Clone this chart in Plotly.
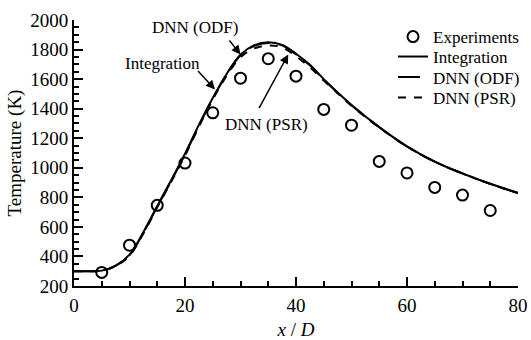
import plotly.graph_objects as go

# Experimental data
exp_x = [5, 10, 15, 20, 25, 30, 35, 40, 45, 50, 55, 60, 65, 70, 75]
exp_T = [292, 476, 746, 1032, 1372, 1606, 1738, 1620, 1395, 1288, 1043, 965, 867, 815, 711]

# Integration curve
int_x = [0, 2.5, 5, 7.5, 10, 12.5, 15, 17.5, 20, 22.5, 25, 27.5, 30, 32.5, 35, 37.5, 40, 42.5, 45, 47.5, 50, 55, 60, 65, 70, 75, 80]
int_T = [300, 300, 304, 338, 412, 565, 742, 915, 1095, 1290, 1472, 1635, 1765, 1830, 1850, 1832, 1772, 1697, 1600, 1510, 1425, 1275, 1145, 1042, 962, 892, 830]

# DNN (ODF)
odf_x = [0, 2.5, 5, 7.5, 10, 12.5, 15, 17.5, 20, 22.5, 25, 27.5, 30, 32.5, 35, 37.5, 40, 42.5, 45, 47.5, 50, 55, 60, 65, 70, 75, 80]
odf_T = [300, 300, 303, 336, 408, 560, 737, 910, 1090, 1285, 1468, 1632, 1762, 1826, 1845, 1828, 1768, 1693, 1597, 1508, 1423, 1274, 1144, 1041, 961, 891, 829]

# DNN (PSR)
psr_x = [0, 2.5, 5, 7.5, 10, 12.5, 15, 17.5, 20, 22.5, 25, 27.5, 30, 32.5, 35, 37.5, 40, 42.5, 45, 47.5, 50, 55, 60, 65, 70, 75, 80]
psr_T = [300, 300, 303, 335, 405, 555, 732, 905, 1082, 1278, 1462, 1622, 1748, 1808, 1828, 1815, 1755, 1680, 1590, 1505, 1420, 1273, 1144, 1041, 961, 891, 829]

FONT = "Liberation Serif, Times New Roman, DejaVu Serif, serif"

legend_rows = [0.936, 0.861, 0.784, 0.707]
legend_x = 0.7185

fig = go.Figure()
fig.add_trace(go.Scatter(x=exp_x, y=exp_T, mode="markers", name="Experiments", legend="legend",
                         marker=dict(symbol="circle-open", size=11, color="black", line=dict(width=2, color="black"))))
fig.add_trace(go.Scatter(x=int_x, y=int_T, mode="lines", name="Integration", line_shape="spline", legend="legend2",
                         line=dict(color="black", width=2)))
fig.add_trace(go.Scatter(x=odf_x, y=odf_T, mode="lines", name="DNN (ODF)", line_shape="spline", legend="legend3",
                         line=dict(color="black", width=2, dash="22px,8px")))
fig.add_trace(go.Scatter(x=psr_x, y=psr_T, mode="lines", name="DNN (PSR)", line_shape="spline", legend="legend4",
                         line=dict(color="black", width=2, dash="8px,8px")))

# text labels
labels = [("DNN (ODF)", 21.8, 1950), ("Integration", 16.0, 1706), ("DNN (PSR)", 34.7, 1292)]
for t, x, y in labels:
    fig.add_annotation(x=x, y=y, text=t, showarrow=False, font=dict(family=FONT, size=17, color="black"))

# arrows (tail -> tip)
arrows = [((27.8, 1872), (30.0, 1767)), ((22.1, 1665), (25.4, 1530)), ((33.2, 1394), (38.6, 1767))]
for (tx, ty), (hx, hy) in arrows:
    fig.add_annotation(x=hx, y=hy, ax=tx, ay=ty, xref="x", yref="y", axref="x", ayref="y",
                       text="", showarrow=True, arrowhead=2, arrowsize=1.2, arrowwidth=1.5, arrowcolor="black")

axis_common = dict(showline=True, linecolor="black", linewidth=2, ticks="inside", ticklen=9, tickwidth=2,
                   tickcolor="black", showgrid=False, zeroline=False, mirror=False,
                   tickfont=dict(family=FONT, size=19, color="black"))

fig.update_xaxes(range=[0, 80], dtick=20, tick0=0, ticklabelstandoff=1,
                 minor=dict(ticks="inside", ticklen=5, tickwidth=2, tickcolor="black", dtick=5, showgrid=False),
                 title=dict(text="<i>x</i> / <i>D</i>", font=dict(family=FONT, size=19, color="black"), standoff=12),
                 **axis_common)
fig.update_yaxes(range=[200, 2000], dtick=200, tick0=0,
                 minor=dict(ticks="inside", ticklen=5, tickwidth=2, tickcolor="black", dtick=50, showgrid=False),
                 title=dict(text="Temperature (K)", font=dict(family=FONT, size=19, color="black"), standoff=4),
                 **axis_common)

leg_common = dict(x=legend_x, xanchor="left", yanchor="middle", bgcolor="rgba(0,0,0,0)",
                  font=dict(family=FONT, size=17, color="black"), itemwidth=30)
fig.update_layout(
    width=531, height=340,
    margin=dict(l=74, r=13, t=20, b=54, autoexpand=False),
    plot_bgcolor="white", paper_bgcolor="white",
    font=dict(family=FONT, size=17, color="black"),
    showlegend=True,
    legend=dict(y=legend_rows[0], **leg_common),
    legend2=dict(y=legend_rows[1], **leg_common),
    legend3=dict(y=legend_rows[2], **leg_common),
    legend4=dict(y=legend_rows[3], **leg_common),
)

fig.write_html("out.html")
